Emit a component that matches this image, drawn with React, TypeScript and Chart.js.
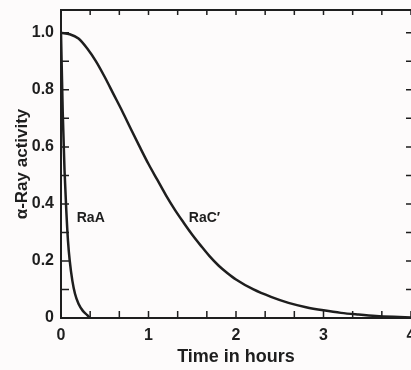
import React, { useEffect, useRef } from "react";
import { Chart, registerables } from "chart.js";

Chart.register(...registerables);

// ---- data ----
const RAA_TIME = [0, 0.02, 0.04, 0.06, 0.08, 0.1, 0.13, 0.16, 0.2, 0.25, 0.3, 0.33];
const RAA_ACTIVITY = [1.0, 0.72, 0.52, 0.38, 0.27, 0.2, 0.13, 0.085, 0.05, 0.025, 0.01, 0.0];

const RAC_TIME = [0, 0.1, 0.2, 0.3, 0.4, 0.5, 0.6, 0.7, 0.8, 0.9, 1.0, 1.1, 1.2, 1.3, 1.4, 1.5, 1.6, 1.7, 1.8, 1.9, 2.0, 2.2, 2.4, 2.6, 2.8, 3.0, 3.2, 3.4, 3.6, 3.8, 4.0];
const RAC_ACTIVITY = [1.0, 0.995, 0.98, 0.945, 0.9, 0.845, 0.785, 0.725, 0.662, 0.6, 0.54, 0.485, 0.43, 0.38, 0.335, 0.292, 0.253, 0.216, 0.184, 0.158, 0.135, 0.1, 0.074, 0.053, 0.038, 0.027, 0.018, 0.012, 0.007, 0.004, 0.002];

const X_LABEL_TICKS = [0, 1, 2, 3, 4];
const Y_LABEL_TICKS = [0, 0.2, 0.4, 0.6, 0.8, 1.0];

const CURVE_LABELS = ["RaA", "RaC\u2032"];
const CURVE_LABEL_X = [0.34, 1.64];
const CURVE_LABEL_Y = [0.35, 0.35];

const X_TITLE = "Time in hours";
const Y_TITLE = "\u03b1-Ray activity";

const INK = "#1e1e1e";
const FONT = "'Liberation Sans', Arial, Helvetica, sans-serif";

const bgPlugin = {
  id: "bg",
  beforeDraw(chart: any) {
    const { ctx, width, height } = chart;
    ctx.save();
    ctx.fillStyle = "#fdfbfb";
    ctx.fillRect(0, 0, width, height);
    ctx.restore();
  },
};

const frameTicksPlugin = {
  id: "frameTicks",
  afterDatasetsDraw(chart: any) {
    const { ctx, chartArea: a, scales } = chart;
    const x = scales.x;
    const y = scales.y;
    ctx.save();
    ctx.strokeStyle = INK;
    ctx.lineWidth = 2;
    ctx.strokeRect(a.left, a.top, a.right - a.left + 2, a.bottom - a.top);
    ctx.lineWidth = 1.5;
    ctx.beginPath();
    // x ticks every 20 minutes
    for (let k = 0; k <= 12; k++) {
      const px = x.getPixelForValue(k / 3);
      ctx.moveTo(px, a.bottom);
      ctx.lineTo(px, a.bottom - 7);
      ctx.moveTo(px, a.top);
      ctx.lineTo(px, a.top + 5);
    }
    // y ticks every 0.1
    for (let k = 0; k <= 10; k++) {
      const py = y.getPixelForValue(k / 10);
      ctx.moveTo(a.left, py);
      ctx.lineTo(a.left + 8, py);
      ctx.moveTo(a.right, py);
      ctx.lineTo(a.right - 5, py);
    }
    ctx.stroke();
    // curve labels
    ctx.fillStyle = INK;
    ctx.font = `bold 14px ${FONT}`;
    ctx.textAlign = "center";
    ctx.textBaseline = "middle";
    CURVE_LABELS.forEach((t, i) => {
      ctx.fillText(t, x.getPixelForValue(CURVE_LABEL_X[i]), y.getPixelForValue(CURVE_LABEL_Y[i]));
    });
    ctx.restore();
  },
};

export default function App() {
  const ref = useRef<HTMLCanvasElement>(null);
  useEffect(() => {
    if (!ref.current) return;
    const tickFont = { family: FONT, size: 16, weight: "bold" };
    const chart = new Chart(ref.current, {
      type: "line",
      data: {
        datasets: [
          {
            label: "RaA",
            data: RAA_TIME.map((t, i) => ({ x: t, y: RAA_ACTIVITY[i] })),
            borderColor: INK,
            borderWidth: 2.5,
            pointRadius: 0,
            cubicInterpolationMode: "monotone",
            fill: false,
          },
          {
            label: "RaC'",
            data: RAC_TIME.map((t, i) => ({ x: t, y: RAC_ACTIVITY[i] })),
            borderColor: INK,
            borderWidth: 2.5,
            pointRadius: 0,
            cubicInterpolationMode: "monotone",
            fill: false,
          },
        ],
      },
      options: {
        responsive: false,
        animation: false,
        devicePixelRatio: 1,
        layout: { padding: { top: 10, right: 0, left: 0, bottom: 0 } },
        plugins: { legend: { display: false }, tooltip: { enabled: false } },
        scales: {
          x: {
            type: "linear",
            min: 0,
            max: 4,
            afterBuildTicks: (s: any) => {
              s.ticks = X_LABEL_TICKS.map((v) => ({ value: v }));
            },
            afterFit: (s: any) => {
              s.height = 52;
              s.paddingLeft = 0;
              s.paddingRight = 0;
            },
            grid: { display: false, drawTicks: false },
            border: { display: false },
            ticks: {
              padding: 8,
              font: tickFont,
              color: INK,
              autoSkip: false,
              maxRotation: 0,
              callback: (v: any) => String(v),
            },
            title: {
              display: true,
              text: X_TITLE,
              color: INK,
              font: { family: FONT, size: 18, weight: "bold" },
              padding: { top: 0, bottom: 2 },
            },
          },
          y: {
            type: "linear",
            min: 0,
            max: 1.08,
            afterBuildTicks: (s: any) => {
              s.ticks = Y_LABEL_TICKS.map((v) => ({ value: v }));
            },
            afterFit: (s: any) => {
              s.width = 61;
              s.paddingTop = 0;
              s.paddingBottom = 0;
            },
            grid: { display: false, drawTicks: false },
            border: { display: false },
            ticks: {
              padding: 7,
              font: tickFont,
              color: INK,
              autoSkip: false,
              callback: (v: any) => (v === 0 ? "0" : Number(v).toFixed(1)),
            },
            title: {
              display: true,
              text: Y_TITLE,
              color: INK,
              font: { family: FONT, size: 17, weight: "bold" },
              padding: { top: 12, bottom: 0 },
            },
          },
        },
      },
      plugins: [bgPlugin, frameTicksPlugin],
    } as any);
    return () => chart.destroy();
  }, []);
  return (
    <div style={{ position: "absolute", left: 0, top: 0, width: 411, height: 370 }}>
      <canvas ref={ref} width={411} height={370} style={{ display: "block", width: 411, height: 370 }} />
    </div>
  );
}
